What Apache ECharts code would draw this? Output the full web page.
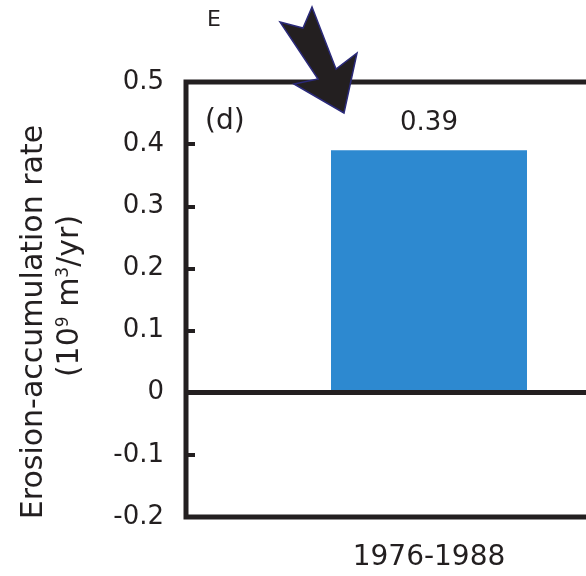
<!DOCTYPE html>
<html>
<head>
<meta charset="utf-8">
<script src="https://cdn.jsdelivr.net/npm/echarts@6/dist/echarts.min.js"></script>
<style>
html,body{margin:0;padding:0;background:#fff;overflow:hidden;width:586px;height:576px;}
#c{width:680px;height:576px;}
</style>
</head>
<body>
<div id="c"></div>
<script>
const categories = ['1976-1988'];
const rates = [0.39];
const yMin = -0.2, yMax = 0.5, yStep = 0.1;
const panelLabel = '(d)';
const cornerLabel = 'E';
const yTitle1 = 'Erosion-accumulation rate';
const yTitle2 = '(10{s|9} m{s|3}/yr)';

const ink = '#231f20';
const font = 'DejaVu Sans';
const chart = echarts.init(document.getElementById('c'), null, {renderer:'canvas'});
chart.setOption({
  animation:false,
  backgroundColor:'#fff',
  grid:{left:186, top:82, bottom:59, width:486, show:true, borderColor:ink, borderWidth:5, backgroundColor:'transparent'},
  xAxis:{
    type:'category', data:categories,
    axisLine:{show:false, onZero:false}, axisTick:{show:false},
    axisLabel:{color:ink, fontFamily:font, fontSize:28, margin:27},
    splitLine:{show:false}
  },
  yAxis:{
    type:'value', min:yMin, max:yMax, interval:yStep,
    axisLine:{show:false},
    axisTick:{show:true, inside:true, length:9, lineStyle:{color:ink, width:4}},
    axisLabel:{color:ink, fontFamily:font, fontSize:26, margin:22},
    splitLine:{show:false}
  },
  series:[{
    type:'bar', data:rates, barWidth:196,
    itemStyle:{color:'#2d89d0'},
    label:{show:true, position:'top', distance:14, color:ink, fontFamily:font, fontSize:26},
    markLine:{silent:true, symbol:'none', label:{show:false},
      lineStyle:{color:ink, width:5, type:'solid'},
      data:[{yAxis:0}]}
  }],
  graphic:[
    {type:'text', left:205, top:108, style:{text:panelLabel, fill:ink, font:'28px "DejaVu Sans"'}},
    {type:'text', left:207, top:9, style:{text:cornerLabel, fill:ink, font:'22px "DejaVu Sans"'}},
    {type:'text', x:34, y:322, rotation:Math.PI/2,
      style:{text:yTitle1, fill:ink, font:'30px "DejaVu Sans"', align:'center', verticalAlign:'middle'}},
    {type:'text', x:70, y:296, rotation:Math.PI/2,
      style:{text:yTitle2, fill:ink, font:'30px "DejaVu Sans"', align:'center', verticalAlign:'middle',
        rich:{s:{fontSize:17, verticalAlign:'top', padding:[0,0,12,0], fontFamily:font, fill:ink}}}},
    {type:'polygon', z:100,
      shape:{points:[[280,22],[303,28],[312,7],[336,69],[357,53],[344,113],[294,84],[318,79]]},
      style:{fill:ink, stroke:'#2b2a7a', lineWidth:1.5}}
  ]
});
</script>
</body>
</html>
